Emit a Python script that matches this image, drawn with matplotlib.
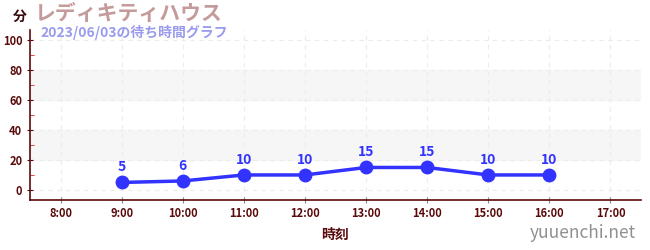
import matplotlib.pyplot as plt

plt.rcParams['font.family'] = ['Noto Sans CJK JP', 'DejaVu Sans']

hours = [9, 10, 11, 12, 13, 14, 15, 16]
waits = [5, 6, 10, 10, 15, 15, 10, 10]
tick_hours = list(range(8, 18))
tick_labels = [f'{h}:00' for h in tick_hours]

axis_col = '#5a0a0a'
line_col = '#3333ff'

fig = plt.figure(figsize=(6.5, 2.5), dpi=100)
ax = fig.add_axes([30 / 650, 50 / 250, 611 / 650, 170 / 250])

ax.set_xlim(7.5, 17.5)
ax.set_ylim(-6.7, 106.7)

# alternating background bands
for lo, hi in [(20, 40), (60, 80)]:
    ax.axhspan(lo, hi, color='#f6f6f6', zorder=0)

ax.grid(True, color='#ececec', linestyle=(0, (4, 4)), linewidth=0.8, zorder=1)

ax.plot(hours, waits, color=line_col, linewidth=2.5, marker='o',
        markersize=9, zorder=3)
for h, w in zip(hours, waits):
    ax.annotate(str(w), (h, w), xytext=(0, 6), textcoords='offset points',
                ha='center', va='bottom', color=line_col, fontsize=10,
                fontweight='bold')

ax.set_xticks(tick_hours)
ax.set_xticklabels(tick_labels, fontsize=8, color=axis_col, fontweight='bold')
ax.set_yticks([0, 20, 40, 60, 80, 100])
ax.set_yticks([10, 30, 50, 70, 90], minor=True)
ax.tick_params(axis='y', labelsize=8, labelcolor=axis_col, colors=axis_col,
               length=4, direction='inout')
ax.tick_params(axis='y', which='minor', colors='#dd2222', length=3, direction='in')
ax.tick_params(axis='x', colors='#888888', length=4, direction='inout', pad=3)
for lbl in ax.get_yticklabels():
    lbl.set_fontweight('bold')
    lbl.set_color(axis_col)
for lbl in ax.get_xticklabels():
    lbl.set_color(axis_col)

for s in ['top', 'right']:
    ax.spines[s].set_visible(False)
for s in ['left', 'bottom']:
    ax.spines[s].set_color(axis_col)
    ax.spines[s].set_linewidth(1.2)

ax.set_xlabel('時刻', fontsize=10, color=axis_col, fontweight='bold', labelpad=6)

fig.text(13 / 650, 1 - 17 / 250, '分', fontsize=10, color='#3a0a0a',
         fontweight='bold', va='center')
fig.text(35 / 650, 1 - 13 / 250, 'レディキティハウス', fontsize=15,
         color='#c49a9a', fontweight='bold', va='center')
fig.text(40 / 650, 1 - 32 / 250, '2023/06/03の待ち時間グラフ', fontsize=10,
         color='#9a9aee', fontweight='bold', va='center')
fig.text(636 / 650, 1 - 233 / 250, 'yuuenchi.net', fontsize=12.5,
         color='#909090', ha='right', va='center')

fig.savefig('out.png', dpi=100)
